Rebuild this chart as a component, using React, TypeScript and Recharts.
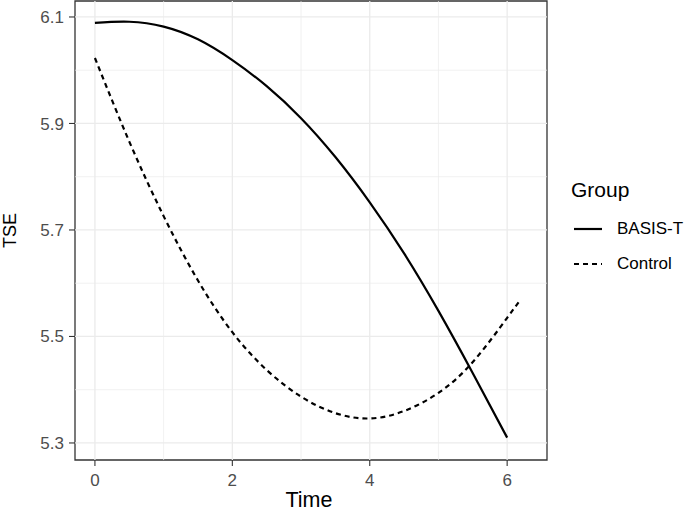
import React from 'react';
import { LineChart, Line, XAxis, YAxis, ReferenceLine, ReferenceArea } from 'recharts';

const times = [0, 0.5, 1, 1.5, 2, 2.5, 3, 3.5, 4, 4.5, 5, 5.5, 6, 6.2];
const basisT = [6.089, 6.091, 6.082, 6.058, 6.019, 5.97, 5.91, 5.837, 5.752, 5.656, 5.548, 5.431, 5.31, null];
const control = [6.023, 5.866, 5.726, 5.605, 5.508, 5.437, 5.387, 5.356, 5.346, 5.36, 5.394, 5.452, 5.535, 5.57];

const groups = ['BASIS-T', 'Control'];
const xTicks = [0, 2, 4, 6];
const xMinor = [1, 3, 5];
const yTicks = [5.3, 5.5, 5.7, 5.9, 6.1];
const yMinor = [5.4, 5.6, 5.8, 6.0];

const data = times.map((t, i) => ({ time: t, 'BASIS-T': basisT[i], Control: control[i] }));

const dashes: Record<string, string | undefined> = { 'BASIS-T': undefined, Control: '5 4' };

const font = '"Liberation Sans", Arial, sans-serif';
const xDomain: [number, number] = [-0.29, 6.58];
const yDomain: [number, number] = [5.268, 6.13];

export default function App() {
  return (
    <div style={{ position: 'absolute', left: 0, top: 0, width: 685, height: 513, background: '#fff', fontFamily: font }}>
      <LineChart width={685} height={513} data={data} margin={{ top: 1, right: 138, left: 0, bottom: 0 }}>
        {xMinor.map((v) => (
          <ReferenceLine key={'xm' + v} x={v} stroke="#EBEBEB" strokeWidth={0.7} />
        ))}
        {yMinor.map((v) => (
          <ReferenceLine key={'ym' + v} y={v} stroke="#EBEBEB" strokeWidth={0.7} />
        ))}
        {xTicks.map((v) => (
          <ReferenceLine key={'x' + v} x={v} stroke="#EBEBEB" strokeWidth={1.3} />
        ))}
        {yTicks.map((v) => (
          <ReferenceLine key={'y' + v} y={v} stroke="#EBEBEB" strokeWidth={1.3} />
        ))}
        <XAxis
          dataKey="time"
          type="number"
          domain={xDomain}
          allowDataOverflow
          ticks={xTicks}
          height={53}
          axisLine={false}
          tickSize={6}
          tickMargin={8}
          tickLine={{ stroke: '#333333', strokeWidth: 1.1 }}
          tick={{ fill: '#4D4D4D', fontSize: 17, fontFamily: font }}
          label={{
            content: ({ viewBox }: any) => (
              <text x={viewBox.x + viewBox.width / 2 - 2} y={507} textAnchor="middle" fontSize={21.5} fontFamily={font} fill="#000">
                Time
              </text>
            ),
          }}
        />
        <YAxis
          type="number"
          domain={yDomain}
          allowDataOverflow
          ticks={yTicks}
          width={75}
          axisLine={false}
          tickSize={6}
          tickMargin={5}
          tickFormatter={(v: number) => v.toFixed(1)}
          tickLine={{ stroke: '#333333', strokeWidth: 1.1 }}
          tick={{ fill: '#4D4D4D', fontSize: 17, fontFamily: font }}
          label={{
            content: ({ viewBox }: any) => {
              const cy = viewBox.y + viewBox.height / 2;
              return (
                <text x={16} y={cy} transform={`rotate(-90, 16, ${cy})`} textAnchor="middle" fontSize={18} fontFamily={font} fill="#000">
                  TSE
                </text>
              );
            },
          }}
        />
        {groups.map((g) => (
          <Line
            key={g}
            dataKey={g}
            type="natural"
            stroke="#000"
            strokeWidth={2.2}
            strokeDasharray={dashes[g]}
            dot={false}
            activeDot={false}
            isAnimationActive={false}
          />
        ))}
        <ReferenceArea x1={xDomain[0]} x2={xDomain[1]} y1={yDomain[0]} y2={yDomain[1]} fill="none" fillOpacity={0} stroke="#333333" strokeWidth={1.3} />
      </LineChart>
      <div style={{ position: 'absolute', left: 571, top: 177 }}>
        <div style={{ fontSize: 21, color: '#000', lineHeight: '26px' }}>Group</div>
        {groups.map((g, i) => (
          <div key={g} style={{ position: 'absolute', top: 42 + i * 35, left: 0, display: 'flex', alignItems: 'center', width: 120 }}>
            <svg width={34} height={16} style={{ display: 'block' }}>
              <line x1={3} x2={31} y1={8} y2={8} stroke="#000" strokeWidth={2.2} strokeDasharray={dashes[g]} />
            </svg>
            <span style={{ marginLeft: 12, fontSize: 17, color: '#000', whiteSpace: 'nowrap' }}>{g}</span>
          </div>
        ))}
      </div>
    </div>
  );
}
